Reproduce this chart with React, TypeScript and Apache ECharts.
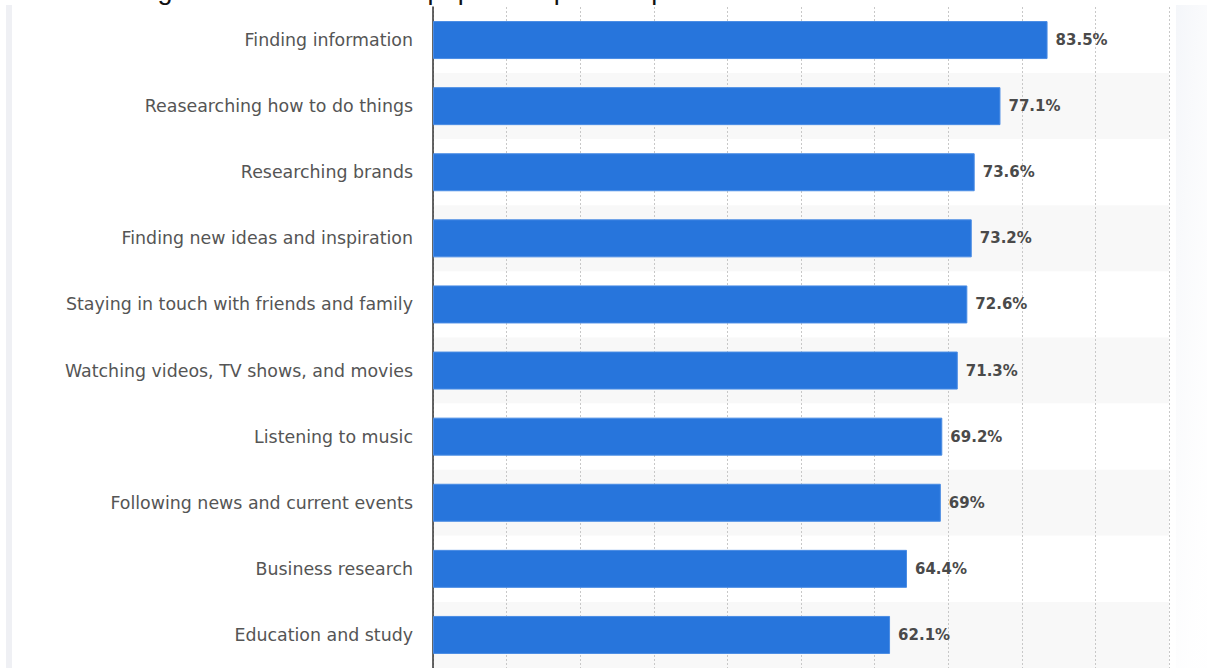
import React, { useEffect, useRef } from "react";
import * as echarts from "echarts";

const titleText = "Figura 1 – Razões mais populares para as pessoas usarem a internet";
const categories = [
  "Finding information",
  "Reasearching how to do things",
  "Researching brands",
  "Finding new ideas and inspiration",
  "Staying in touch with friends and family",
  "Watching videos, TV shows, and movies",
  "Listening to music",
  "Following news and current events",
  "Business research",
  "Education and study",
];
const values = [83.5, 77.1, 73.6, 73.2, 72.6, 71.3, 69.2, 69, 64.4, 62.1];
const xMin = 0;
const xMax = 100;
const xStep = 10;

export default function App() {
  const ref = useRef<HTMLDivElement>(null);
  useEffect(() => {
    document.body.style.margin = "0";
    if (!ref.current) return;
    const chart = echarts.init(ref.current, null, { renderer: "svg" });
    chart.setOption({
      animation: false,
      backgroundColor: "#ffffff",
      title: {
        text: titleText,
        left: 130,
        top: -29,
        textStyle: { fontFamily: "Liberation Sans", fontSize: 27, fontWeight: "normal", color: "#111" },
      },
      graphic: [
        { type: "rect", shape: { x: 6, y: 5, width: 6, height: 670 }, style: { fill: "#eff0f4" }, silent: true },
        {
          type: "rect",
          shape: { x: 1176, y: 5, width: 31, height: 670 },
          style: {
            fill: new echarts.graphic.LinearGradient(0, 0, 0.6, 1, [
              { offset: 0, color: "rgba(243,245,249,0.9)" },
              { offset: 0.6, color: "rgba(248,249,251,0.5)" },
              { offset: 1, color: "rgba(252,252,253,0.2)" },
            ]),
          },
          silent: true,
          z: -1,
        },
      ],
      grid: { left: 433, right: 38, top: 7, height: 662, containLabel: false },
      xAxis: {
        type: "value",
        min: xMin,
        max: xMax,
        interval: xStep,
        axisLabel: { show: false },
        axisLine: { show: false },
        axisTick: { show: false },
        splitLine: { show: true, lineStyle: { color: "#c8c8c8", type: [2, 2], width: 1 } },
      },
      yAxis: {
        type: "category",
        data: categories,
        inverse: true,
        axisLine: { show: true, lineStyle: { color: "#333", width: 1.5 } },
        axisTick: { show: false },
        axisLabel: {
          margin: 20,
          fontFamily: "DejaVu Sans",
          fontSize: 17.4,
          color: "#555",
        },
        splitArea: { show: true, areaStyle: { color: ["#ffffff", "#f8f8f8"] } },
      },
      series: [
        {
          type: "bar",
          data: values,
          barWidth: 38,
          itemStyle: { color: "#2775dc", borderColor: "#4a8ce4", borderWidth: 1 },
          label: {
            show: true,
            position: "right",
            distance: 8,
            formatter: (p: any) => p.value + "%",
            fontFamily: "DejaVu Sans",
            fontSize: 15,
            fontWeight: "bold",
            color: "#4a4a4a",
          },
        },
      ],
    });
    return () => chart.dispose();
  }, []);
  return <div ref={ref} style={{ width: 1207, height: 668 }} />;
}
